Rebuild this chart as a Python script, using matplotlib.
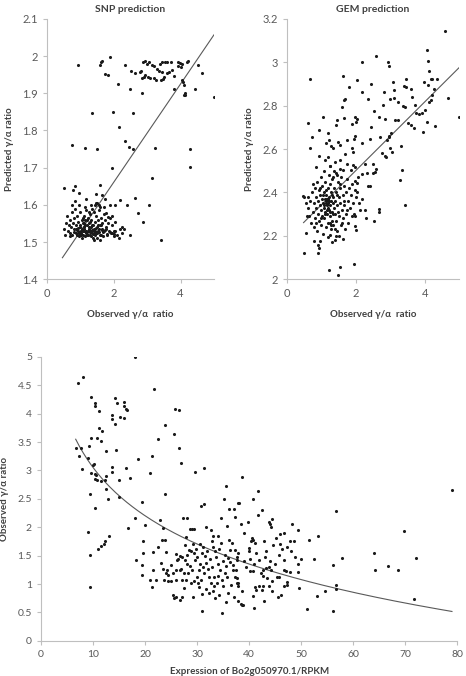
import matplotlib
matplotlib.use("Agg")
import matplotlib.pyplot as plt
import numpy as np

plt.rcParams['font.family'] = ['Lato', 'DejaVu Sans']

# ---- SNP prediction (top left) ----
snp_obs = [
    # upper group
    0.93, 1.90, 1.62, 1.66, 1.59, 1.73, 1.83, 2.33, 2.14, 2.49,
    2.52, 2.65, 2.79, 2.83, 2.89, 2.95, 3.00, 2.85, 2.90, 2.95,
    2.85, 3.07, 3.14, 3.19, 3.03, 3.09, 3.19, 3.25, 3.29, 3.36,
    3.43, 3.39, 3.45, 3.53, 3.59, 3.71, 3.41, 3.47, 3.51, 3.59,
    3.65, 3.73, 3.81, 3.91, 3.99, 4.05, 4.19, 4.21, 3.92, 4.00,
    3.79, 4.04, 4.07, 4.09, 4.14, 4.10, 4.14, 4.53, 4.63, 4.43, 4.99,
    # middle
    1.36, 1.97, 2.57, 2.15, 0.74, 1.14, 1.50, 2.35, 2.47, 2.57,
    3.23, 4.27, 4.29, 1.95, 3.14,
    # lower scattered
    0.52, 0.84, 0.79, 0.96, 1.58, 1.46, 1.66, 1.73, 1.16, 1.32,
    1.46, 1.50, 1.60, 1.90, 2.05, 2.19, 2.63, 2.41, 3.05, 2.73,
    2.87, 3.41, 2.49, 2.15, 2.31, 2.25, 2.00, 2.02, 1.96, 1.82, 1.78,
    # dense cluster
    0.52, 0.55, 0.58, 0.60, 0.62, 0.65, 0.68, 0.70, 0.72, 0.74,
    0.76, 0.78, 0.80, 0.82, 0.84, 0.86, 0.88, 0.90, 0.92, 0.94,
    0.96, 0.98, 1.00, 1.02, 1.04, 1.05, 1.07, 1.08, 1.10, 1.12,
    1.13, 1.15, 1.16, 1.18, 1.20, 1.21, 1.23, 1.25, 1.26, 1.28,
    1.30, 1.31, 1.33, 1.35, 1.36, 1.38, 1.40, 1.42, 1.44, 1.45,
    1.47, 1.49, 1.50, 1.52, 1.54, 1.56, 1.58, 1.60, 1.62, 1.64,
    1.66, 1.68, 1.70, 1.72, 1.75, 1.78, 1.80, 1.83, 1.86, 1.90,
    1.93, 1.96, 2.00, 2.05, 2.10, 2.18, 2.25, 1.10, 1.20, 1.30,
    1.00, 0.90, 1.25, 1.35, 1.15, 1.45, 1.05, 0.95, 0.85, 1.40,
    1.60, 1.70, 1.55, 0.70, 0.75, 1.22, 1.28, 1.18, 1.08, 1.38,
    0.98, 1.02, 1.12, 1.32, 1.42, 1.52, 1.62, 1.48, 0.88, 1.14,
    # bottom strip of the cluster
    0.82, 0.89, 0.97, 1.03, 1.09, 1.17, 1.24, 1.29, 1.34, 1.39,
    1.43, 1.51, 1.57, 1.63, 1.69, 1.74, 1.81, 1.88, 1.95, 2.03,
    0.92, 1.01, 1.11, 1.19, 1.27, 1.37, 1.46, 1.55, 1.65, 1.77,
]
snp_pred = [
    1.976, 1.997, 1.983, 1.986, 1.975, 1.952, 1.948, 1.975, 1.925, 1.911,
    1.960, 1.955, 1.958, 1.960, 1.983, 1.986, 1.980, 1.940, 1.944, 1.948,
    1.902, 1.983, 1.975, 1.973, 1.944, 1.942, 1.940, 1.937, 1.966, 1.960,
    1.956, 1.980, 1.983, 1.983, 1.983, 1.985, 1.935, 1.938, 1.944, 1.955,
    1.958, 1.962, 1.946, 1.983, 1.981, 1.978, 1.983, 1.987, 1.973, 1.970,
    1.911, 1.935, 1.931, 1.922, 1.902, 1.895, 1.896, 1.975, 1.955, 1.911, 1.890,
    1.846, 1.851, 1.846, 1.810, 1.762, 1.754, 1.750, 1.771, 1.756, 1.749,
    1.753, 1.750, 1.703, 1.700, 1.672,
    1.645, 1.651, 1.640, 1.633, 1.654, 1.630, 1.627, 1.617, 1.615, 1.600,
    1.605, 1.605, 1.595, 1.600, 1.600, 1.613, 1.619, 1.599, 1.600, 1.577,
    1.555, 1.506, 1.520, 1.511, 1.535, 1.540, 1.522, 1.516, 1.570, 1.567, 1.578,
    1.535, 1.520, 1.550, 1.570, 1.530, 1.545, 1.525, 1.560, 1.540, 1.580,
    1.520, 1.550, 1.535, 1.565, 1.590, 1.525, 1.545, 1.570, 1.530, 1.555,
    1.515, 1.540, 1.580, 1.525, 1.560, 1.535, 1.550, 1.520, 1.570, 1.540,
    1.515, 1.560, 1.530, 1.585, 1.545, 1.520, 1.565, 1.535, 1.550, 1.520,
    1.575, 1.540, 1.560, 1.525, 1.545, 1.510, 1.580, 1.535, 1.555, 1.520,
    1.570, 1.540, 1.510, 1.560, 1.530, 1.585, 1.545, 1.520, 1.565, 1.535,
    1.550, 1.515, 1.575, 1.530, 1.560, 1.540, 1.520, 1.550, 1.530, 1.565,
    1.525, 1.545, 1.530, 1.555, 1.520, 1.535, 1.525, 1.550, 1.560, 1.530,
    1.545, 1.520, 1.580, 1.590, 1.595, 1.600, 1.510, 1.600, 1.610, 1.505,
    1.505, 1.595, 1.600, 1.515, 1.600, 1.530, 1.555, 1.525, 1.565, 1.545,
    1.525, 1.530, 1.530, 1.515, 1.525, 1.545, 1.545, 1.525, 1.535, 1.545,
    1.528, 1.532, 1.525, 1.520, 1.530, 1.526, 1.518, 1.528, 1.533, 1.522,
    1.530, 1.524, 1.528, 1.520, 1.526, 1.532, 1.522, 1.528, 1.524, 1.530,
    1.538, 1.522, 1.536, 1.527, 1.540, 1.533, 1.537, 1.535, 1.531, 1.536,
]
snp_fit = (0.132, 1.397)      # slope, intercept
snp_fit_x = (0.46, 5.0)

# ---- GEM prediction (top right) ----
gem_obs = [
    4.59, 2.59, 2.18, 2.93, 2.96, 4.08, 4.09, 4.14, 4.18, 4.22,
    4.36, 0.66, 1.62, 2.03, 2.45, 1.80, 2.18, 3.07, 3.47, 3.41,
    3.45, 4.26, 3.99, 4.10, 3.61, 3.11, 2.83, 4.22, 4.68, 3.10,
    2.99, 2.35, 1.68, 1.65, 3.62, 3.24, 3.37, 1.60, 2.80, 2.54,
    3.43, 3.72, 4.12, 4.19, 3.76, 3.85, 3.93, 4.01, 0.60, 1.05,
    1.45, 1.66, 1.98, 2.04, 2.00, 1.89, 1.43, 2.85, 2.66, 2.43,
    3.13, 3.23, 3.53, 3.60, 3.69, 4.08, 3.95, 4.30, 4.99, 0.73,
    0.92, 1.18, 1.13, 1.21, 1.29, 1.35, 1.47, 1.54, 1.75, 1.97,
    1.95, 1.89, 1.93, 2.17, 2.42, 2.70, 2.95, 2.97, 3.03, 2.91,
    3.00, 3.05, 2.89, 2.76, 2.84, 3.30, 0.67, 0.93, 0.83, 1.10,
    1.18, 1.25, 1.39, 1.54, 1.68, 1.64, 1.85, 1.93, 1.99, 2.26,
    2.32, 2.49, 2.18, 2.56, 2.58, 3.35, 3.28, 3.43, 2.51, 2.35,
    2.41, 1.99, 2.02, 2.18, 2.12, 2.27, 2.31, 2.53, 2.66, 2.68,
    1.97, 2.02, 2.08, 1.98, 1.99, 2.00, 1.95, 1.54, 1.47, 1.21,
    1.62, 1.39, 1.43, 1.25, 1.18, 1.31, 0.96, 0.89, 0.94, 0.79,
    0.54, 0.50, 0.91, 0.48, 0.46, 0.60,
    # dense cluster
    0.62, 0.65, 0.68, 0.70, 0.72, 0.75, 0.77, 0.79, 0.80, 0.82,
    0.84, 0.85, 0.87, 0.88, 0.90, 0.91, 0.93, 0.94, 0.95, 0.97,
    0.98, 0.99, 1.00, 1.01, 1.02, 1.03, 1.04, 1.05, 1.06, 1.07,
    1.08, 1.09, 1.10, 1.11, 1.12, 1.13, 1.14, 1.15, 1.16, 1.17,
    1.18, 1.19, 1.20, 1.21, 1.22, 1.23, 1.24, 1.25, 1.26, 1.27,
    1.28, 1.29, 1.30, 1.31, 1.32, 1.33, 1.34, 1.35, 1.36, 1.37,
    1.38, 1.40, 1.41, 1.42, 1.43, 1.45, 1.46, 1.47, 1.48, 1.50,
    1.52, 1.53, 1.55, 1.56, 1.58, 1.60, 1.62, 1.63, 1.65, 1.67,
    1.69, 1.70, 1.72, 1.74, 1.76, 1.78, 1.80, 1.82, 1.85, 1.88,
    1.90, 1.92, 1.95, 2.00, 2.05, 0.58, 0.56, 1.15, 1.18, 1.12,
    1.20, 1.08, 1.22, 1.10, 1.25, 1.05, 1.30, 1.00, 1.35, 1.28,
    0.96, 1.45, 1.55, 1.65, 1.75, 1.60, 0.85, 0.75, 1.40, 1.50,
    1.14, 1.16, 1.24, 1.34, 1.44, 1.54, 1.36, 1.26, 1.06, 1.74,
]
gem_pred = [
    3.143, 3.031, 3.000, 3.003, 2.983, 3.056, 3.005, 2.959, 2.925, 2.925,
    2.925, 2.925, 2.937, 2.917, 2.899, 2.885, 2.863, 2.908, 2.923, 2.890,
    2.888, 2.877, 2.908, 2.897, 2.879, 2.873, 2.863, 2.848, 2.837, 2.835,
    2.832, 2.831, 2.832, 2.826, 2.842, 2.815, 2.800, 2.794, 2.802, 2.776,
    2.794, 2.802, 2.817, 2.827, 2.765, 2.762, 2.765, 2.779, 2.722, 2.748,
    2.736, 2.742, 2.748, 2.737, 2.726, 2.717, 2.711, 2.737, 2.750, 2.704,
    2.734, 2.734, 2.722, 2.712, 2.696, 2.724, 2.680, 2.707, 2.748, 2.656,
    2.688, 2.673, 2.627, 2.642, 2.612, 2.605, 2.632, 2.618, 2.640, 2.660,
    2.645, 2.605, 2.588, 2.627, 2.647, 2.655, 2.662, 2.655, 2.676, 2.642,
    2.605, 2.585, 2.565, 2.580, 2.570, 2.616, 2.604, 2.570, 2.519, 2.550,
    2.565, 2.520, 2.540, 2.550, 2.576, 2.504, 2.504, 2.525, 2.515, 2.533,
    2.489, 2.533, 2.483, 2.493, 2.510, 2.504, 2.458, 2.344, 2.489, 2.430,
    2.428, 2.455, 2.445, 2.370, 2.318, 2.318, 2.284, 2.269, 2.325, 2.310,
    2.410, 2.400, 2.350, 2.290, 2.243, 2.227, 2.069, 2.054, 2.021, 2.043,
    2.187, 2.180, 2.200, 2.205, 2.195, 2.170, 2.175, 2.157, 2.145, 2.178,
    2.214, 2.121, 2.123, 2.380, 2.385, 2.380,
    2.330, 2.290, 2.360, 2.260, 2.400, 2.310, 2.350, 2.240, 2.420, 2.280,
    2.380, 2.330, 2.450, 2.220, 2.300, 2.360, 2.410, 2.270, 2.340, 2.390,
    2.250, 2.470, 2.320, 2.370, 2.290, 2.430, 2.350, 2.210, 2.400, 2.330,
    2.280, 2.370, 2.450, 2.310, 2.360, 2.240, 2.390, 2.340, 2.300, 2.370,
    2.420, 2.260, 2.350, 2.480, 2.320, 2.380, 2.290, 2.440, 2.340, 2.230,
    2.360, 2.400, 2.310, 2.270, 2.460, 2.350, 2.380, 2.250, 2.330, 2.420,
    2.300, 2.360, 2.490, 2.270, 2.400, 2.340, 2.220, 2.450, 2.310, 2.380,
    2.290, 2.420, 2.350, 2.250, 2.470, 2.320, 2.390, 2.280, 2.430, 2.340,
    2.230, 2.400, 2.300, 2.460, 2.360, 2.260, 2.420, 2.330, 2.390, 2.290,
    2.440, 2.350, 2.300, 2.380, 2.470, 2.290, 2.350, 2.370, 2.330, 2.350,
    2.370, 2.340, 2.360, 2.300, 2.310, 2.390, 2.390, 2.280, 2.300, 2.250,
    2.420, 2.390, 2.440, 2.360, 2.320, 2.260, 2.260, 2.440, 2.230, 2.200,
    2.410, 2.320, 2.260, 2.470, 2.480, 2.510, 2.500, 2.520, 2.500, 2.530,
]
gem_fit = (0.158, 2.185)
gem_fit_x = (0.48, 5.0)

# ---- Expression vs observed ratio (bottom) ----
expr = [
    18.0, 7.05, 8.01, 9.6, 10.3, 10.4, 11.15, 11.2, 11.8, 10.7,
    11.5, 9.6, 9.2, 6.7, 7.6, 7.24, 9.0, 10.1, 10.0, 7.9,
    9.7, 10.3, 10.6, 10.3, 10.8, 11.5, 12.3, 12.4, 12.5, 13.6,
    13.6, 12.4, 14.5, 13.6, 13.6, 14.2, 14.2, 14.7, 15.2, 15.9,
    15.9, 16.0, 16.3, 16.5, 14.9, 14.9, 12.8, 9.4, 10.4, 16.3,
    17.2, 18.7, 19.5, 18.1, 16.8, 20.0, 19.7, 18.3, 19.5, 19.7,
    19.5, 20.9, 21.3, 21.5, 21.5, 22.2, 20.9, 21.4, 21.8, 22.5,
    23.8, 23.8, 22.8, 23.4, 23.2, 23.9, 22.5, 23.1, 23.4, 24.1,
    24.3, 24.5, 24.9, 25.3, 25.5, 26.0, 26.7, 25.5, 25.8, 26.5,
    26.5, 26.9, 25.9, 26.1, 25.9, 26.8, 27.0, 27.2, 27.3, 28.1,
    28.6, 29.1, 29.4, 29.6, 30.8, 31.4, 31.4, 31.7, 32.6, 31.0,
    34.7, 35.6, 35.1, 34.6, 33.1, 34.1, 36.2, 35.8, 37.9,
    9.4, 9.4, 9.0, 10.9, 11.5, 12.1, 12.3, 13.1,
    27.9, 27.7, 27.2, 27.7, 28.1, 28.6, 28.3, 27.4, 27.9, 28.8,
    27.4, 27.2, 29.2, 29.4, 29.7, 30.0, 30.3, 29.9, 30.8, 30.4,
    29.2, 31.2, 31.5, 31.8, 32.1, 31.4, 32.3, 32.6, 31.8, 33.0,
    33.3, 33.0, 33.5, 33.7, 34.1, 34.4, 34.0, 34.7, 35.0, 35.4,
    35.6, 35.9, 36.3, 36.7, 36.2, 36.9, 37.2, 37.6, 37.7, 37.9,
    37.1, 37.9, 25.4, 26.0, 26.7, 26.3, 24.9, 24.5, 24.1, 23.6,
    28.9, 29.8, 30.5, 30.9, 31.1, 32.0, 32.5, 32.8, 33.2, 33.8,
    34.3, 34.9, 35.3, 35.8, 36.4, 36.6, 28.4, 29.0, 30.1, 31.0,
    32.2, 33.5, 34.2, 35.5, 36.0, 30.6, 32.9, 34.6, 29.5, 28.0,
    38.6, 41.7, 40.8, 38.1, 37.1, 41.7, 39.7, 37.2, 48.3, 49.4,
    56.7, 79.0, 69.7, 53.2, 51.5, 48.6, 46.7, 45.9, 44.0, 44.3,
    43.8, 40.5, 40.8, 40.3, 42.9, 41.1, 39.9, 39.9, 41.4, 43.2,
    44.6, 46.4, 47.3, 45.8, 46.7, 48.1, 50.0, 52.4, 56.2, 57.8,
    64.0, 64.2, 66.7, 68.7, 72.1, 71.7, 56.8, 56.8, 54.6, 53.1,
    51.1, 56.2, 49.6, 49.5, 49.5, 47.8, 46.7, 47.3, 47.2, 46.8,
    47.1, 45.6, 46.2, 44.5, 42.9, 41.0, 40.7, 38.5, 38.7, 38.9,
    38.6, 37.8, 41.2, 41.4, 42.0, 42.7, 42.4, 43.8, 43.5, 44.5,
    45.3, 45.8, 43.8, 44.2, 42.7, 43.3, 42.2, 42.7, 40.1, 40.8,
    37.2, 37.6, 37.0, 37.5, 37.6, 37.8, 39.0, 39.5, 40.2, 41.0,
    42.0, 43.0, 44.0, 45.0, 46.0, 45.2, 47.8, 48.8, 39.0, 38.5,
    42.5, 44.5,
]
obs_ratio = [
    5.00, 4.54, 4.65, 4.30, 4.18, 4.14, 4.04, 3.74, 3.70, 3.58,
    3.52, 3.58, 3.44, 3.40, 3.40, 3.25, 3.22, 3.12, 3.09, 3.02,
    2.96, 2.93, 2.92, 2.85, 2.84, 2.81, 2.84, 2.68, 2.90, 2.98,
    3.07, 3.35, 3.36, 3.97, 3.90, 3.82, 4.28, 4.19, 3.94, 3.93,
    4.20, 4.13, 4.09, 4.06, 2.84, 2.54, 2.50, 2.58, 2.34, 3.04,
    2.87, 3.21, 2.44, 2.16, 1.98, 2.04, 1.76, 1.43, 1.34, 1.55,
    1.16, 1.08, 0.95, 1.56, 1.25, 1.08, 2.96, 3.26, 4.44, 3.56,
    3.80, 2.58, 2.13, 1.98, 1.78, 1.78, 1.65, 1.37, 1.26, 1.57,
    1.25, 1.06, 1.06, 0.80, 0.75, 0.78, 0.72, 3.65, 4.09, 4.06,
    3.40, 3.14, 1.53, 1.42, 1.25, 1.50, 1.26, 1.07, 2.16, 2.16,
    1.97, 1.97, 1.97, 2.98, 2.37, 2.41, 3.05, 2.00, 1.96, 0.52,
    0.49, 2.73, 2.50, 2.16, 1.84, 1.85, 2.32, 2.03, 2.43,
    1.51, 0.95, 1.92, 1.62, 1.67, 1.71, 1.75, 1.85,
    1.83, 1.69, 1.48, 1.42, 1.35, 1.31, 1.20, 1.19, 1.07, 1.01,
    0.93, 0.78, 1.71, 1.54, 1.42, 1.48, 1.25, 1.13, 1.07, 0.94,
    0.77, 1.66, 1.49, 1.37, 1.26, 1.19, 1.13, 1.01, 0.91, 0.87,
    0.97, 1.66, 1.59, 1.48, 1.35, 1.25, 1.15, 1.07, 0.96, 1.19,
    1.31, 1.46, 1.60, 1.72, 1.78, 1.25, 1.12, 1.01, 1.42, 1.54,
    0.78, 0.70, 1.19, 1.08, 1.25, 1.45, 1.34, 1.16, 1.19, 1.07,
    1.58, 1.62, 1.36, 1.55, 1.30, 1.58, 1.45, 1.30, 1.12, 1.02,
    1.62, 1.40, 1.52, 1.12, 1.38, 0.98, 1.60, 1.25, 1.02, 0.82,
    0.84, 0.75, 0.80, 0.68, 0.85, 1.70, 1.75, 1.73, 1.05, 1.52,
    2.89, 2.64, 2.50, 2.43, 2.32, 2.21, 2.10, 2.18, 2.06, 1.96,
    2.28, 2.66, 1.94, 1.85, 1.78, 1.76, 1.90, 1.88, 2.05, 2.01,
    2.09, 1.82, 1.78, 1.75, 1.76, 1.72, 1.64, 1.59, 1.55, 1.58,
    1.68, 1.62, 1.66, 1.52, 1.43, 1.58, 1.45, 1.44, 1.34, 1.46,
    1.54, 1.25, 1.32, 1.24, 1.46, 0.73, 0.99, 0.92, 0.88, 0.79,
    0.56, 0.53, 0.93, 1.22, 1.35, 1.22, 1.25, 1.04, 0.99, 0.97,
    1.23, 0.77, 0.80, 0.87, 0.71, 0.57, 0.79, 0.65, 0.64, 0.63,
    0.87, 0.96, 0.95, 0.90, 0.96, 0.97, 0.90, 0.96, 1.10, 1.05,
    1.13, 1.13, 1.30, 1.24, 1.25, 1.29, 1.19, 1.14, 1.23, 1.23,
    1.60, 1.48, 1.33, 1.24, 1.11, 1.02, 1.40, 1.30, 1.45, 1.35,
    1.42, 1.48, 1.40, 1.35, 1.70, 1.82, 1.75, 1.48, 1.90, 2.05,
    2.30, 2.15,
]
expr_fit = (5.879, -1.227)     # y = a + b*ln(x)
expr_fit_x = (6.67, 79.0)

DOT = '#1a1a1a'
LINE = '#595959'
SPINE = '#bfbfbf'
TICK = '#595959'
LABEL = '#404040'


def style(ax, size=8):
    for s in ('top', 'right'):
        ax.spines[s].set_visible(False)
    for s in ('left', 'bottom'):
        ax.spines[s].set_color(SPINE)
        ax.spines[s].set_linewidth(0.8)
    ax.tick_params(colors=SPINE, labelcolor=TICK, labelsize=size, length=3, width=0.8)
    ax.yaxis.set_major_formatter(matplotlib.ticker.FormatStrFormatter('%g'))


fig = plt.figure(figsize=(4.66, 6.76), dpi=100)

ax1 = fig.add_axes([0.101, 0.587, 0.358, 0.385])
ax1.scatter(snp_obs, snp_pred, s=5, color=DOT, linewidths=0, zorder=3)
xs = np.array(snp_fit_x)
ax1.plot(xs, snp_fit[0] * xs + snp_fit[1], color=LINE, lw=0.8)
ax1.set_xlim(0, 5)
ax1.set_ylim(1.4, 2.1)
ax1.set_xticks([0, 2, 4])
ax1.set_yticks(np.arange(1.4, 2.11, 0.1))
style(ax1)
ax1.set_title('SNP prediction', fontsize=7.5, fontweight='bold', color=LABEL, pad=5)
ax1.set_xlabel('Observed γ/α  ratio', fontsize=7, fontweight='bold', color=LABEL, labelpad=8)
ax1.set_ylabel('Predicted γ/α ratio', fontsize=7, fontweight='bold', color=LABEL, labelpad=6)

ax2 = fig.add_axes([0.616, 0.587, 0.369, 0.385])
ax2.scatter(gem_obs, gem_pred, s=5, color=DOT, linewidths=0, zorder=3)
xs = np.array(gem_fit_x)
ax2.plot(xs, gem_fit[0] * xs + gem_fit[1], color=LINE, lw=0.8)
ax2.set_xlim(0, 5)
ax2.set_ylim(2.0, 3.2)
ax2.set_xticks([0, 2, 4])
ax2.set_yticks(np.arange(2.0, 3.21, 0.2))
style(ax2)
ax2.set_title('GEM prediction', fontsize=7.5, fontweight='bold', color=LABEL, pad=5)
ax2.set_xlabel('Observed γ/α  ratio', fontsize=7, fontweight='bold', color=LABEL, labelpad=8)
ax2.set_ylabel('Predicted γ/α ratio', fontsize=7, fontweight='bold', color=LABEL, labelpad=6)

ax3 = fig.add_axes([0.088, 0.052, 0.893, 0.420])
ax3.scatter(expr, obs_ratio, s=5, color=DOT, linewidths=0, zorder=3)
xs = np.linspace(expr_fit_x[0], expr_fit_x[1], 200)
ax3.plot(xs, expr_fit[0] + expr_fit[1] * np.log(xs), color=LINE, lw=0.8)
ax3.set_xlim(0, 80)
ax3.set_ylim(0, 5)
ax3.set_xticks(np.arange(0, 81, 10))
ax3.set_yticks(np.arange(0, 5.01, 0.5))
style(ax3, size=7.5)
ax3.set_xlabel('Expression of Bo2g050970.1/RPKM', fontsize=7, fontweight='bold', color=LABEL, labelpad=6)
ax3.set_ylabel('Observed γ/α ratio', fontsize=7, fontweight='bold', color=LABEL, labelpad=6)

fig.savefig('out.png', dpi=100)
